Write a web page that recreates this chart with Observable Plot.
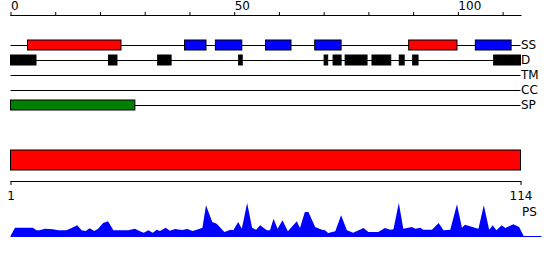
<!DOCTYPE html>
<html><head><meta charset="utf-8">
<script src="https://cdn.jsdelivr.net/npm/d3@7"></script>
<script src="https://cdn.jsdelivr.net/npm/@observablehq/plot@0.6"></script>
<style>body{margin:0;background:#fff} #chart svg{display:block}</style>
</head><body><div id="chart"></div>
<script>
// ---- data ----
const seqLength = 114;
const tracks = ["SS", "D", "TM", "CC", "SP"];
const topTicks = [0, 10, 20, 30, 40, 50, 60, 70, 80, 90, 100, 110];
const topTickLabels = [0, 50, 100];
const bottomTicks = [0, 114];
const bottomTickLabels = ["1", "114"];

// secondary structure: H = helix (red), E = strand (blue)
const ssStart = [3.8, 38.9, 45.8, 57.0, 68.0, 89.0, 103.9];
const ssEnd   = [24.7, 43.7, 51.7, 62.7, 73.9, 99.8, 111.9];
const ssKind  = ["H", "E", "E", "E", "E", "H", "E"];

// disorder
const dStart = [0, 21.9, 32.9, 51.0, 70.1, 72.1, 74.8, 80.8, 86.9, 89.9, 108.0];
const dEnd   = [5.7, 23.8, 35.9, 51.8, 70.9, 73.9, 79.7, 85.0, 88.0, 91.1, 114.0];

// signal peptide
const spStart = [0];
const spEnd = [27.8];

// whole chain bar
const chainStart = [0];
const chainEnd = [114];

// PS profile (position, height)
const psPos = [0,1,5,5.8,6.5,7.7,9.5,10.7,12.5,13.3,14.9,15.9,16.8,17.7,18.7,19.6,20.7,21.8,23,26.3,27.8,29.3,29.8,30.8,31.8,32.7,33.4,34.7,35.6,36.8,38.3,39.5,40.7,42.3,42.9,43.7,45.1,46.1,47.8,49.2,49.8,50.9,51.7,52.9,54,54.9,55.8,57.3,58,58.8,59.7,60.8,62,64,64.7,65.8,66.6,68.1,69.6,70.3,71,72.6,73.9,75.2,76.6,78.9,80,82.2,83.7,84.9,85.6,86.8,87.8,89.7,90.5,91.6,92.3,94.2,95.7,96.8,98.3,99.8,100.9,101.6,103.8,104.6,105.8,107,107.8,108.6,109.8,110.6,112.4,113.7,114.7];
const psVal = [0,8.3,8.3,5.7,5.7,7.3,6.7,5.7,5.7,7.3,10.7,5.7,5,7.7,5,7.3,13,14.7,5.7,5.7,7.3,4,3.3,5.7,3.3,6.3,5,8.3,5.3,7,6,7,5,7.3,8.3,30.7,14,12.3,4,6.3,5.7,14,7.3,33,8.3,6.3,10.7,5.7,5.7,17.3,7.3,15.7,4.7,14.7,8,24,24,9,6.3,5.7,3,4.7,20.7,5.7,3.3,8,4,4,8,6.3,6.7,33,7.3,9,7.3,8.3,6.3,6.3,13,5.7,6.3,31.7,8.3,11.3,8.3,7.3,30.7,6.3,10.7,5.7,10.7,8,11.7,9,0];
const psBaselineEnd = 118.7;
const psMax = 36;

// ---- tables ----
const segments = [
  ...ssStart.map((s, i) => ({track: "SS", start: s, end: ssEnd[i], kind: ssKind[i]})),
  ...dStart.map((s, i) => ({track: "D", start: s, end: dEnd[i], kind: "D"})),
  ...spStart.map((s, i) => ({track: "SP", start: s, end: spEnd[i], kind: "SP"}))
];
const chain = chainStart.map((s, i) => ({start: s, end: chainEnd[i]}));
const ps = psPos.map((p, i) => ({pos: p, val: psVal[i]}));

const style = {fontFamily: "DejaVu Sans", fontSize: "12px", background: "white", color: "black", overflow: "visible"};
const common = {width: 550, marginLeft: 10.5, marginRight: 29.5, style};

const plotA = Plot.plot({
  ...common,
  height: 115, marginTop: 15, marginBottom: 2.5,
  x: {domain: [0, seqLength]},
  y: {domain: tracks, type: "band", paddingInner: 1/3, paddingOuter: 1/6, insetTop: 22.5, axis: null},
  color: {domain: ["H", "E", "D", "SP"], range: ["#ff0000", "#0000ff", "#000000", "#008000"]},
  marks: [
    Plot.frame({anchor: "top"}),
    Plot.axisX({anchor: "top", ticks: topTicks, tickSize: 4, tickPadding: 2, textAnchor: "start",
      tickFormat: d => topTickLabels.includes(d) ? String(d) : ""}),
    Plot.ruleY(tracks, {y: d => d, x1: () => 0, x2: () => seqLength, stroke: "black"}),
    Plot.barX(segments, {x1: "start", x2: "end", y: "track", fill: "kind", stroke: "black"}),
    Plot.text(tracks, {y: d => d, x: () => seqLength, text: d => d, textAnchor: "start", dx: 0})
  ]
});

const plotB = Plot.plot({
  ...common,
  height: 85, marginTop: 35, marginBottom: 19,
  x: {domain: [0, seqLength]},
  marks: [
    Plot.barX(chain, {x1: "start", x2: "end", fill: "#ff0000", stroke: "black", insetBottom: 11}),
    Plot.frame({anchor: "bottom"}),
    Plot.axisX({anchor: "bottom", ticks: bottomTicks, tickSize: 4, tickPadding: 6,
      tickFormat: d => bottomTickLabels[bottomTicks.indexOf(d)]})
  ]
});

const plotC = Plot.plot({
  ...common,
  height: 60, marginTop: 0, marginBottom: 24,
  x: {domain: [0, seqLength], axis: null},
  y: {domain: [0, psMax], axis: null},
  marks: [
    Plot.areaY(ps, {x: "pos", y: "val", fill: "#0000ff"}),
    Plot.ruleY([0], {x1: () => 0, x2: () => psBaselineEnd, stroke: "#0000ff"}),
    Plot.text(["PS"], {x: () => seqLength, text: d => d, frameAnchor: "top", textAnchor: "start", lineAnchor: "top", dx: 1, dy: 7})
  ]
});

const el = document.getElementById("chart");
el.append(plotA, plotB, plotC);
</script>
</body></html>
